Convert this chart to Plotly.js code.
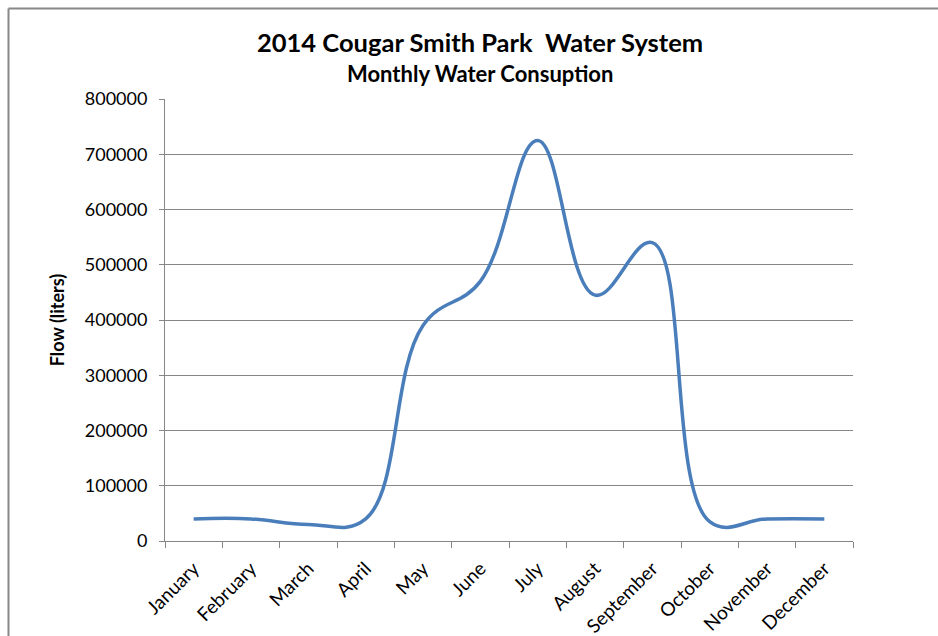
<!DOCTYPE html>
<html>
<head>
<meta charset="utf-8">
<script src="https://cdn.plot.ly/plotly-3.0.1.min.js"></script>
<style>
html,body{margin:0;padding:0;background:#fff;}
#chart{width:938px;height:636px;}
</style>
</head>
<body>
<div id="chart"></div>
<script>
const months = ["January","February","March","April","May","June","July","August","September","October","November","December"];
const flow = [40000, 40000, 30000, 40000, 390000, 470000, 725000, 445000, 540000, 35000, 40000, 40000];
const yTicks = [0, 100000, 200000, 300000, 400000, 500000, 600000, 700000, 800000];
const chartTitle = "2014 Cougar Smith Park&nbsp; Water System";
const chartSubtitle = "Monthly Water Consuption";
const yTitle = "Flow (liters)";

const FONT = "Lato, 'Open Sans', sans-serif";
const W = 938, H = 636;
const m = {l:165, r:85, t:99, b:95};
const pw = W - m.l - m.r, ph = H - m.t - m.b;
const px = x => (x - m.l) / pw;
const py = y => (H - m.b - y) / ph;

const trace = {
  x: months, y: flow, type: "scatter", mode: "lines",
  line: {color: "#4A7EBB", width: 3.5, shape: "spline", smoothing: 1.15},
  hoverinfo: "x+y"
};

const layout = {
  width: W, height: H,
  margin: m,
  paper_bgcolor: "#fff", plot_bgcolor: "#fff",
  showlegend: false,
  font: {family: FONT, color: "#000", size: 17},
  xaxis: {
    type: "category", range: [-0.5, 11.5],
    showgrid: false, zeroline: false,
    showline: true, linecolor: "#868686", linewidth: 1,
    ticks: "outside", tickson: "boundaries", ticklen: 6, tickcolor: "#868686",
    tickangle: -45, ticklabelstandoff: 8,
    tickfont: {family: FONT, size: 19, color: "#000"}
  },
  yaxis: {
    range: [0, 800000], tickvals: yTicks, ticktext: yTicks.map(String),
    showgrid: true, gridcolor: "#868686", gridwidth: 1,
    zeroline: false, showline: true, linecolor: "#868686", linewidth: 1,
    ticks: "outside", ticklen: 5, tickcolor: "#868686", ticklabelstandoff: 8,
    tickfont: {family: FONT, size: 18, color: "#000"},
    title: {text: yTitle, font: {family: FONT, size: 18, color: "#000", weight: "bold"}, standoff: 15}
  },
  annotations: [
    {text: "<b>" + chartTitle + "</b>", xref: "paper", yref: "paper", x: px(480), y: py(42),
     showarrow: false, xanchor: "center", yanchor: "middle", font: {family: FONT, size: 25.5, color: "#000"}},
    {text: "<b>" + chartSubtitle + "</b>", xref: "paper", yref: "paper", x: px(480), y: py(73),
     showarrow: false, xanchor: "center", yanchor: "middle", font: {family: FONT, size: 22, color: "#000"}}
  ],
  shapes: [
    {type: "line", xref: "paper", yref: "paper", x0: px(8.5), x1: px(945), y0: py(8.5), y1: py(8.5),
     line: {color: "#888888", width: 2}},
    {type: "line", xref: "paper", yref: "paper", x0: px(8.5), x1: px(8.5), y0: py(8.5), y1: py(645),
     line: {color: "#888888", width: 2}}
  ]
};

Plotly.newPlot("chart", [trace], layout, {displayModeBar: false, staticPlot: true});
</script>
</body>
</html>
